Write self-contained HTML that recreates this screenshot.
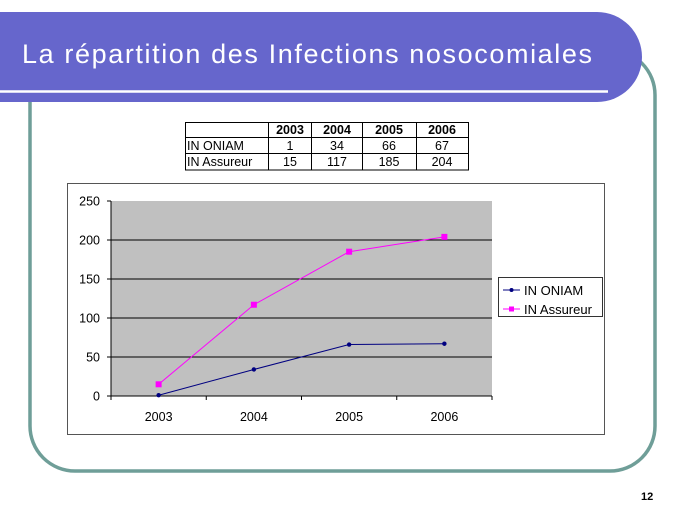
<!DOCTYPE html>
<html><head><meta charset="utf-8"><style>
html,body{margin:0;padding:0;background:#fff;width:689px;height:517px;overflow:hidden;font-family:"Liberation Sans",sans-serif;}
</style></head><body>
<svg width="689" height="517" viewBox="0 0 689 517" xmlns="http://www.w3.org/2000/svg" font-family="Liberation Sans, sans-serif">
  <rect x="30" y="50" width="625" height="421" rx="45" ry="45" fill="none" stroke="#6f9e98" stroke-width="3.5"/>
  <path d="M0 12 H597 A45 45 0 0 1 597 102 H0 Z" fill="#6666cc"/>
  <line x1="0" y1="91.5" x2="608" y2="91.5" stroke="#fff" stroke-width="2.5"/>
  <text x="22" y="63" font-size="27" fill="#fff" textLength="570">La répartition des Infections nosocomiales</text>

  <g font-size="12.5" fill="#000">
    <rect x="185.5" y="122.5" width="283" height="47.5" fill="#fff" stroke="#000" stroke-width="1"/>
    <line x1="185" y1="137.5" x2="469" y2="137.5" stroke="#000"/>
    <line x1="185" y1="153.5" x2="469" y2="153.5" stroke="#000"/>
    <line x1="268.5" y1="122" x2="268.5" y2="170" stroke="#000"/>
    <line x1="311.5" y1="122" x2="311.5" y2="170" stroke="#000"/>
    <line x1="362.5" y1="122" x2="362.5" y2="170" stroke="#000"/>
    <line x1="416.5" y1="122" x2="416.5" y2="170" stroke="#000"/>
    <g font-weight="bold" text-anchor="middle">
      <text x="290" y="134">2003</text><text x="337" y="134">2004</text><text x="389" y="134">2005</text><text x="442" y="134">2006</text>
    </g>
    <text x="187" y="150">IN ONIAM</text><text x="187" y="166">IN Assureur</text>
    <g text-anchor="middle">
      <text x="290" y="150">1</text><text x="337" y="150">34</text><text x="389" y="150">66</text><text x="442" y="150">67</text>
      <text x="290" y="166">15</text><text x="337" y="166">117</text><text x="389" y="166">185</text><text x="442" y="166">204</text>
    </g>
  </g>

  <rect x="67.5" y="183.5" width="537" height="251" fill="#fff" stroke="#555" stroke-width="1"/>
  <rect x="111" y="201" width="381" height="195" fill="#c0c0c0"/>
  <g id="grid"></g>
  <g id="axes"></g>
  <g id="series"></g>

  <g>
    <rect x="498.5" y="277.5" width="104" height="39" fill="#fff" stroke="#333"/>
    <line x1="503" y1="290" x2="520" y2="290" stroke="#000080"/>
    <circle cx="511.5" cy="290" r="2" fill="#000080"/>
    <text x="524" y="295" font-size="13">IN ONIAM</text>
    <line x1="503" y1="309" x2="520" y2="309" stroke="#ff00ff"/>
    <rect x="509" y="306.5" width="5" height="5" fill="#ff00ff"/>
    <text x="524" y="314" font-size="13">IN Assureur</text>
  </g>
  <text x="641" y="500" font-size="11" font-weight="bold">12</text>
</svg>
<script>
const categories = ["2003","2004","2005","2006"];
const oniam = [1,34,66,67];
const assureur = [15,117,185,204];
const yTicks = [0,50,100,150,200,250];

const NS="http://www.w3.org/2000/svg";
const L=111,R=492,T=201,B=396,yMax=250;
const bw=(R-L)/categories.length;
const x=i=>L+bw*(i+0.5);
const y=v=>B-(v/yMax)*(B-T);
function mk(tag,attrs,parent){const e=document.createElementNS(NS,tag);for(const k in attrs)e.setAttribute(k,attrs[k]);parent.appendChild(e);return e;}
const grid=document.getElementById('grid'),axes=document.getElementById('axes'),ser=document.getElementById('series');

yTicks.forEach(t=>{
  if(t>0&&t<yMax){const g=mk('line',{x1:L,x2:R,y1:y(t),y2:y(t),stroke:'#000','stroke-width':1},grid);
  
  }
  const tk=mk('line',{x1:L-4,x2:L,y1:y(t),y2:y(t),stroke:'#000'},axes);
  
  
  const lb=mk('text',{x:L-11,y:y(t)+4.5,'font-size':12.5,'text-anchor':'end'},axes);
  lb.textContent=t;
  
  
});
const ya=mk('line',{x1:L,x2:L,y1:T,y2:B,stroke:'#000'},axes);


const xa=mk('line',{x1:L,x2:R,y1:B,y2:B,stroke:'#000'},axes);


for(let i=0;i<=categories.length;i++){
  const tk=mk('line',{x1:L+bw*i,x2:L+bw*i,y1:B,y2:B+4,stroke:'#000'},axes);
  
  
}
categories.forEach((c,i)=>{
  const lb=mk('text',{x:x(i),y:B+25,'font-size':12.5,'text-anchor':'middle'},axes);
  lb.textContent=c;
  
  
});
function series(vals,color,name,square){
  const p=mk('polyline',{points:vals.map((v,i)=>x(i)+','+y(v)).join(' '),fill:'none',stroke:color,'stroke-width':1},ser);
  
  
  vals.forEach((v,i)=>{
    let m;
    if(square)m=mk('rect',{x:x(i)-3,y:y(v)-3,width:6,height:6,fill:color},ser);
    else m=mk('circle',{cx:x(i),cy:y(v),r:2.2,fill:color},ser);
    
    
  });
}
series(oniam,'#000080','oniam',false);
series(assureur,'#ff00ff','assureur',true);
</script>
</body></html>
